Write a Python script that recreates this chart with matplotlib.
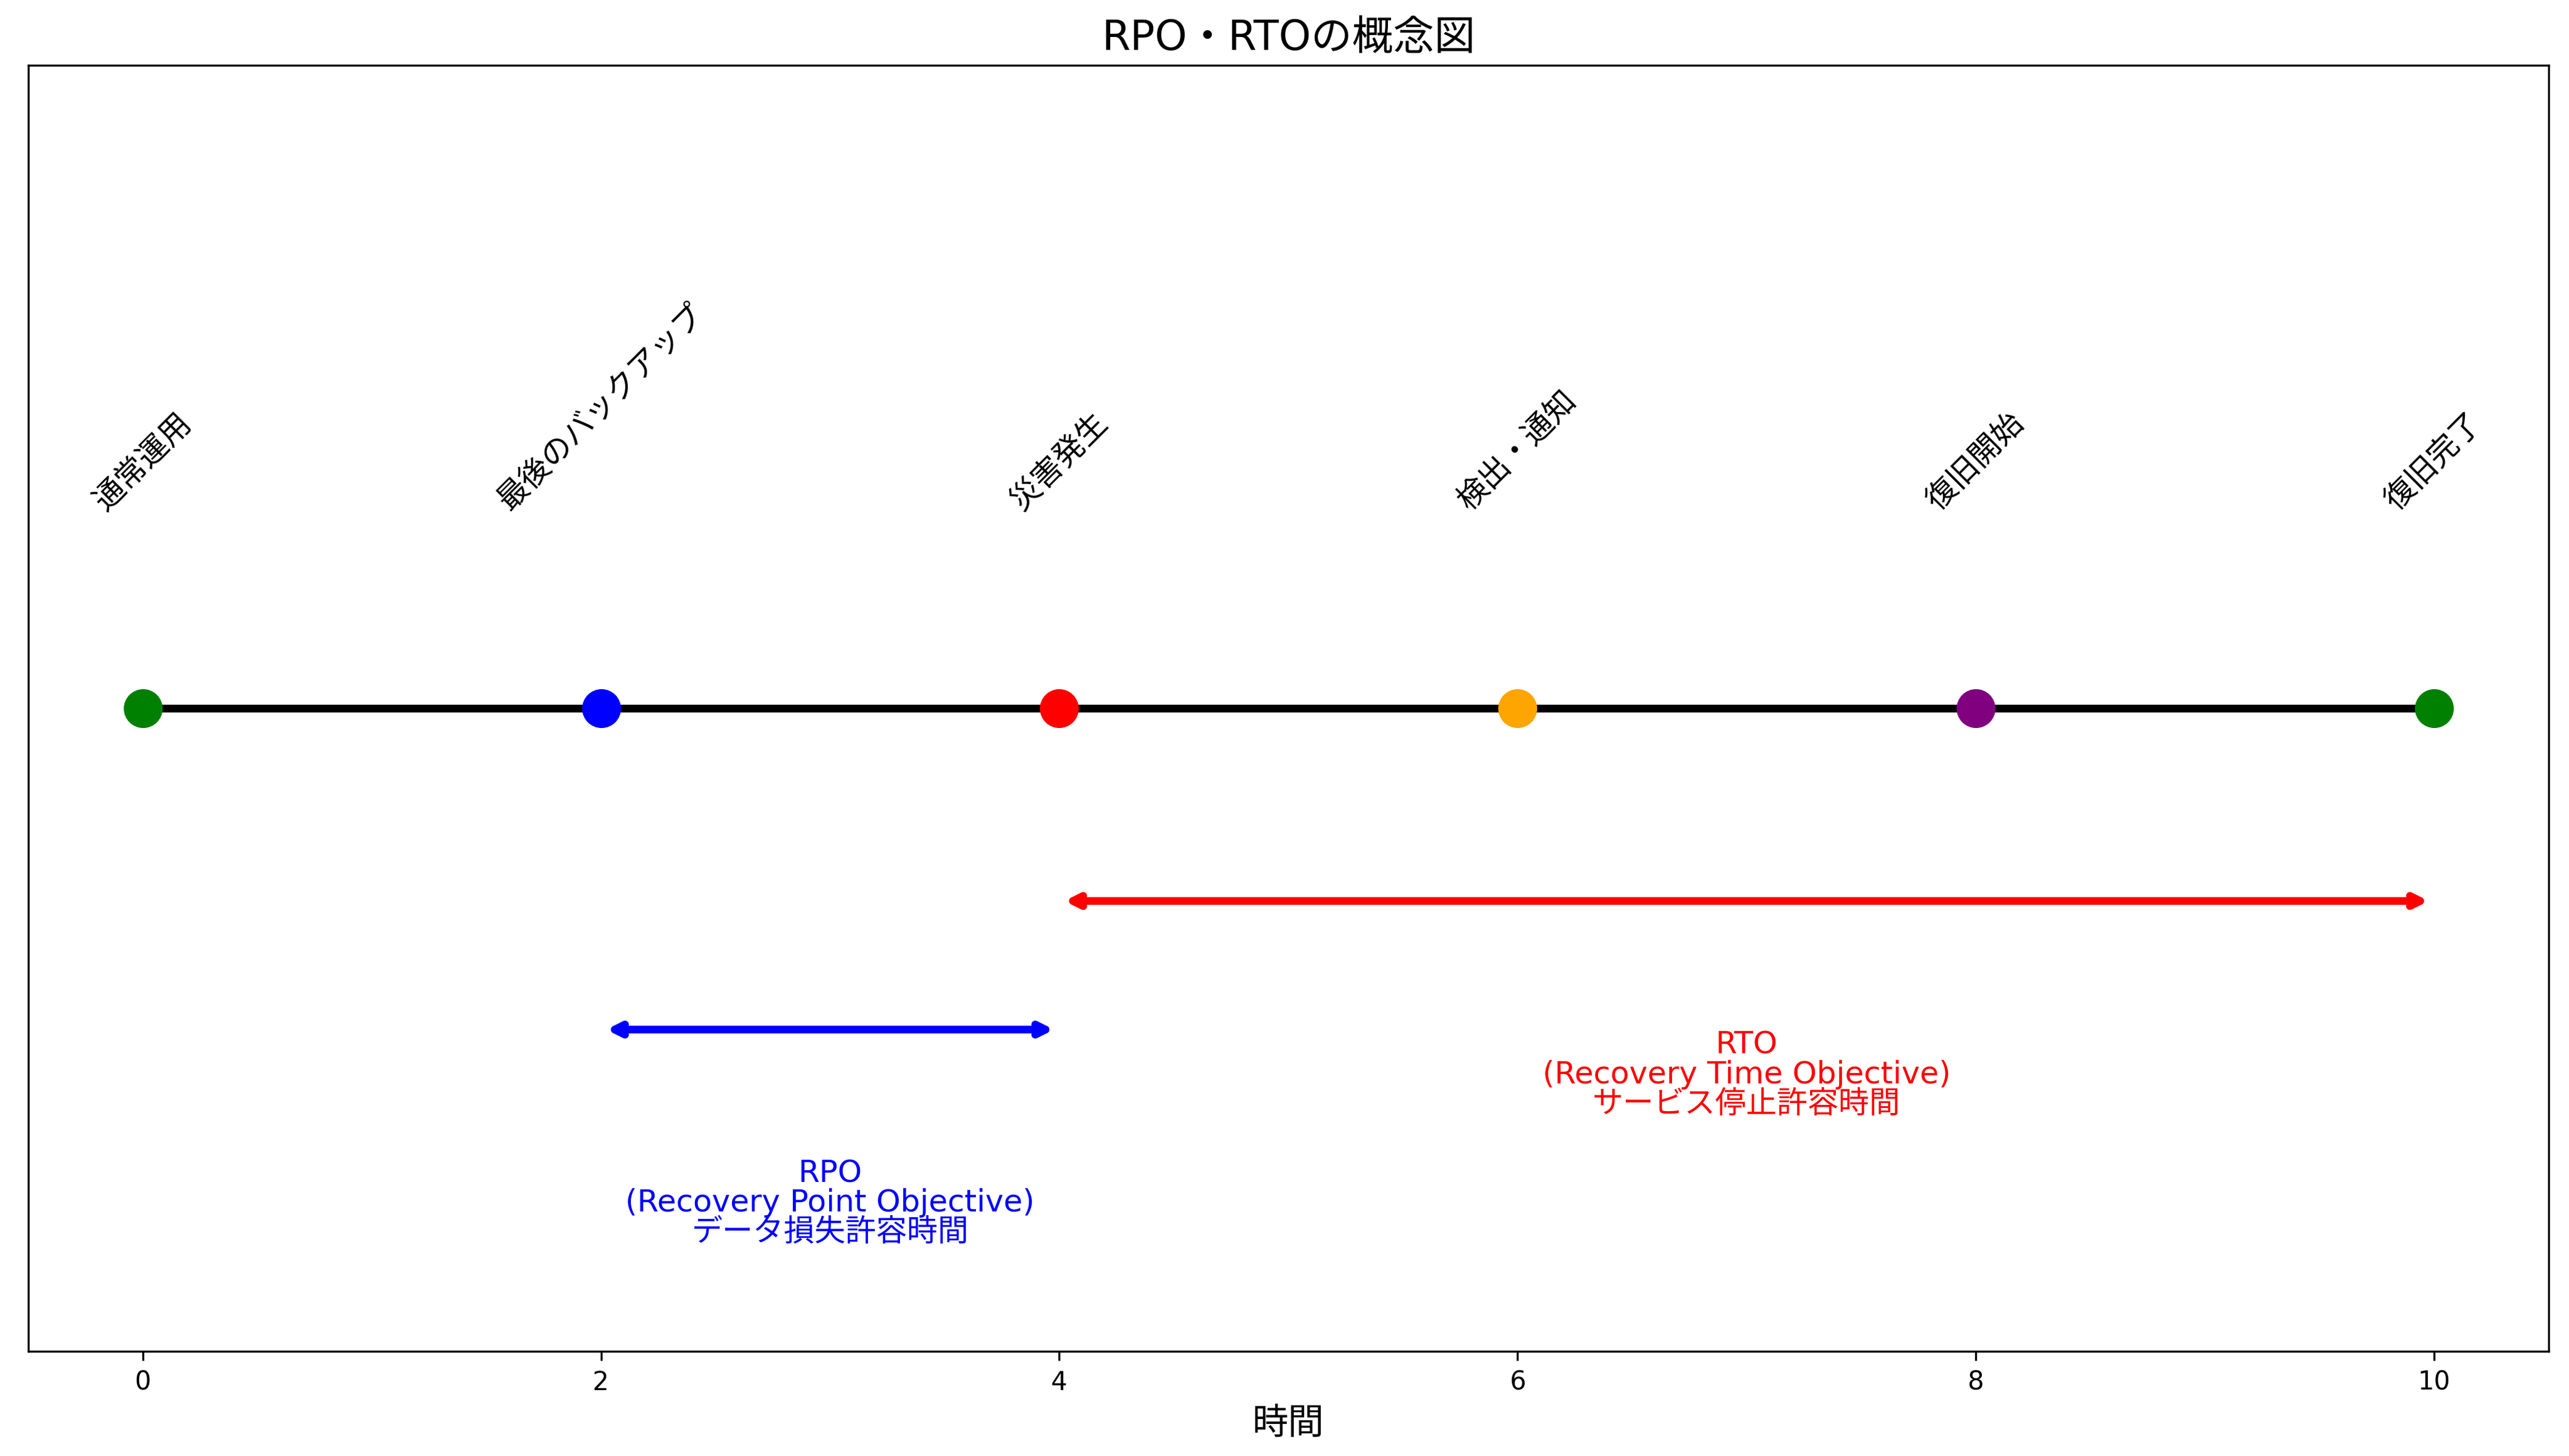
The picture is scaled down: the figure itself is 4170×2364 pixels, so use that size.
import matplotlib
matplotlib.use("Agg")
import matplotlib.pyplot as plt

plt.rcParams['font.family'] = ['DejaVu Sans', 'Noto Sans CJK JP']

times = [0, 2, 4, 6, 8, 10]
events = ['通常運用', '最後のバックアップ', '災害発生', '検出・通知', '復旧開始', '復旧完了']
colors = ['green', 'blue', 'red', 'orange', 'purple', 'green']
rpo = (2, 4)
rto = (4, 10)

fig, ax = plt.subplots(figsize=(13.9, 7.883), dpi=300)
ax.plot(times, [0]*len(times), color='black', lw=3, zorder=1)
for t, e, c in zip(times, events, colors):
    ax.scatter(t, 0, s=200, color=c, zorder=2)
    ax.text(t, 0.6, e, rotation=45, ha='center', va='bottom', fontsize=12)

ax.annotate('', xy=(rpo[0], -1), xytext=(rpo[1], -1),
            arrowprops=dict(arrowstyle='<->', color='blue', lw=3))
ax.text(sum(rpo)/2, -1.4, 'RPO\n(Recovery Point Objective)\nデータ損失許容時間',
        ha='center', va='top', color='blue', fontsize=12, linespacing=1.0)
ax.annotate('', xy=(rto[0], -0.6), xytext=(rto[1], -0.6),
            arrowprops=dict(arrowstyle='<->', color='red', lw=3))
ax.text(sum(rto)/2, -1.0, 'RTO\n(Recovery Time Objective)\nサービス停止許容時間',
        ha='center', va='top', color='red', fontsize=12, linespacing=1.0)

ax.set_xlim(-0.5, 10.5)
ax.set_ylim(-2, 2)
ax.set_yticks([])
ax.set_xlabel('時間', fontsize=14)
ax.set_title('RPO・RTOの概念図', fontsize=16)
fig.subplots_adjust(left=0.011, right=0.992, top=0.955, bottom=0.072)
fig.savefig('out.png')
